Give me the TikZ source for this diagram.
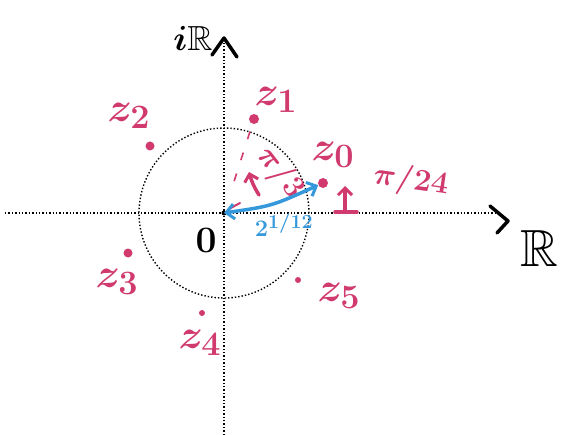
\documentclass[tikz,border=0pt]{standalone}
\usepackage{amssymb}
\usetikzlibrary{arrows.meta}
\definecolor{pk}{RGB}{208,58,110}
\definecolor{bl}{RGB}{52,152,219}
\begin{document}
\begin{tikzpicture}[x=1pt,y=-1pt,
  axis/.style={dotted, line width=1.4pt},
  pt/.style={circle, fill=pk, inner sep=0pt, minimum size=#1},
  big/.style={font=\fontsize{24.88}{24.88}\selectfont\boldmath, inner sep=0pt, scale=#1},
  lbl/.style={text=pk, big=1.65},
  ang/.style={text=pk, big=1.25},
  blk/.style={text=black, big=#1},
  hand/.style={line width=3.5pt, line cap=round, line join=round},
  barb/.style={-{Straight Barb[length=7pt,width=14pt,line width=3pt]}}]
\useasboundingbox (0,0) rectangle (561,435);
% axes
\coordinate (O) at (224,213);
\coordinate (xL) at (5,213);
\coordinate (xR) at (500,213);
\coordinate (yT) at (224,42);
\coordinate (yB) at (224,435);
\draw[axis] (xL) -- (xR);
\draw[axis] (yB) -- (yT);
\draw[hand] (212,55) -- (224,38) -- (237,57);
\draw[hand] (490,206) -- (508,221) -- (497,233);
\node[blk=1.4] (iR) at (193,38) {$i\mathbb{R}$};
\node[blk=2.1] (R) at (539,249) {$\mathbb{R}$};
\node[blk=1.5] (zero) at (206,240) {$0$};
% unit circle
\draw[axis] (O) circle[radius=85pt];
\fill (O) circle[radius=2.5pt];
% points
\node[pt=10pt] (z0) at (323,183) {};
\node[pt=10pt] (z1) at (254,119) {};
\node[pt=9pt] (z2) at (150,146) {};
\node[pt=9pt] (z3) at (128,253) {};
\node[pt=6pt] (z4) at (202,313) {};
\node[pt=6pt] (z5) at (298,280) {};
\node[lbl] (l0) at (333,155) {$z_0$};
\node[lbl] (l1) at (276,100) {$z_1$};
\node[lbl] (l2) at (129,116) {$z_2$};
\node[lbl] (l3) at (117,282) {$z_3$};
\node[lbl] (l4) at (200,343) {$z_4$};
\node[lbl] (l5) at (339,296) {$z_5$};
% angle pi/3
\draw[pk, line width=1.6pt, dash pattern=on 8pt off 14pt, shorten <=8pt, shorten >=22pt] (z1) -- (O);
\coordinate (a1) at (259,195);
\coordinate (a2) at (249,172);
\draw[hand, pk, barb] (a1) to[bend left=8] (a2);
\node[ang, rotate=-52] (p3) at (280,173) {$\pi/3$};
% angle pi/24
\coordinate (b0) at (335,212);
\coordinate (b1) at (357,212);
\coordinate (b2) at (345,212);
\coordinate (b3) at (345,186);
\draw[hand, pk] (b0) -- (b1);
\draw[hand, pk, barb] (b2) -- (b3);
\node[ang, rotate=-8] (p24) at (411,181) {$\pi/24$};
% modulus
\draw[hand, pk, line width=2pt] (229,209) -- (240,203);
\draw[hand, bl, {Straight Barb[length=8pt,width=15pt,line width=3pt]}-{Straight Barb[length=8pt,width=15pt,line width=3pt]}] (O) .. controls (272,206) .. (z0);
\node[text=bl, big=0.95] (mod) at (284,225) {$2^{1/12}$};
\end{tikzpicture}
\end{document}
